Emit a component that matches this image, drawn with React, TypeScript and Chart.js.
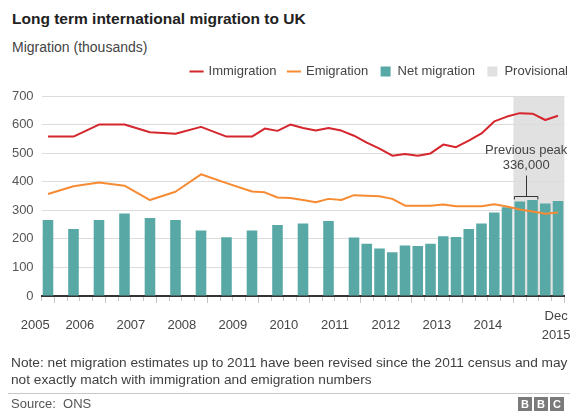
import React, { useEffect, useRef } from 'react';
import { Chart, registerables } from 'chart.js';

Chart.register(...registerables);

const FONT = '"Liberation Sans", Arial, Helvetica, sans-serif';
const RED = '#d5262d';
const ORANGE = '#f68b33';
const TEAL = '#58a8a5';
const GREY_BAND = '#e1e1e1';

// Year-ending quarters (x categories)
const quarters = [
  'Dec 2005',
  'Mar 2006', 'Jun 2006', 'Sep 2006', 'Dec 2006',
  'Mar 2007', 'Jun 2007', 'Sep 2007', 'Dec 2007',
  'Mar 2008', 'Jun 2008', 'Sep 2008', 'Dec 2008',
  'Mar 2009', 'Jun 2009', 'Sep 2009', 'Dec 2009',
  'Mar 2010', 'Jun 2010', 'Sep 2010', 'Dec 2010',
  'Mar 2011', 'Jun 2011', 'Sep 2011', 'Dec 2011',
  'Mar 2012', 'Jun 2012', 'Sep 2012', 'Dec 2012',
  'Mar 2013', 'Jun 2013', 'Sep 2013', 'Dec 2013',
  'Mar 2014', 'Jun 2014', 'Sep 2014', 'Dec 2014',
  'Mar 2015', 'Jun 2015', 'Sep 2015', 'Dec 2015',
];

// thousands
const immigration = [
  558,
  null, 558, null, 600,
  null, 600, null, 573,
  null, 568, null, 592,
  null, 558, null, 558,
  586, 578, 600, 588,
  579, 588, 579, 561,
  537, 516, 491, 497,
  491, 499, 530, 521,
  544, 569, 611, 628,
  640, 638, 616, 631,
];

const emigration = [
  357,
  null, 384, null, 397,
  null, 386, null, 336,
  null, 365, null, 426,
  null, 395, null, 366,
  363, 345, 343, 336,
  328, 340, 336, 353,
  351, 349, 340, 316,
  316, 316, 320, 314,
  314, 314, 321, 313,
  303, 296, 288, 292,
];

const netMigration = [
  266,
  null, 235, null, 266,
  null, 289, null, 273,
  null, 266, null, 229,
  null, 206, null, 229,
  null, 249, null, 254,
  null, 263, null, 205,
  183, 166, 153, 177,
  175, 183, 209, 207,
  235, 254, 292, 311,
  331, 336, 324, 333,
];

// x-axis year labels and their positions (in quarter units)
const yearTickPositions = [-1.0, 2.5, 6.5, 10.5, 14.5, 18.5, 22.5, 26.5, 30.5, 34.5, 39.85];
const yearTickLabels: (string | string[])[] = [
  '2005', '2006', '2007', '2008', '2009', '2010', '2011', '2012', '2013', '2014', ['Dec', '2015'],
];

const provisionalRange = [36.5, 40.5];
const peakRange = [37, 38];
const peakValue = 336;
const peakLabel = ['Previous peak', '336,000'];

const toPoints = (arr: (number | null)[]) =>
  arr
    .map((v, i) => (v === null ? null : { x: i, y: v }))
    .filter((p) => p !== null) as { x: number; y: number }[];

const legendGap = 8;

const legendGapPlugin = {
  id: 'legendGap',
  beforeLayout(chart: any) {
    const lg = chart.legend;
    if (lg && !lg._gapPatched) {
      const fit = lg.fit;
      lg.fit = function () {
        fit.call(this);
        this.height += legendGap;
      };
      lg._gapPatched = true;
    }
  },
};

const overlayPlugin = {
  id: 'overlay',
  beforeDraw(chart: any) {
    const { ctx, chartArea, scales } = chart;
    const xs = scales.x;
    const x0 = xs.getPixelForValue(provisionalRange[0]);
    const x1 = xs.getPixelForValue(provisionalRange[1]);
    ctx.save();
    ctx.fillStyle = GREY_BAND;
    ctx.fillRect(x0, chartArea.top, x1 - x0, chartArea.bottom - chartArea.top);
    ctx.restore();
  },
  afterDatasetsDraw(chart: any) {
    const { ctx, scales } = chart;
    const xs = scales.x;
    const ys = scales.y;
    const pa = xs.getPixelForValue(peakRange[0]);
    const pb = xs.getPixelForValue(peakRange[1]);
    const half = (xs.getPixelForValue(1) - xs.getPixelForValue(0)) * 0.42;
    const xa = pa - half;
    const xb = pb + half;
    const xm = (pa + pb) / 2;
    const yb = Math.round(ys.getPixelForValue(peakValue)) - 3.5;
    ctx.save();
    ctx.strokeStyle = '#333';
    ctx.lineWidth = 1;
    ctx.beginPath();
    ctx.moveTo(xa, yb + 3);
    ctx.lineTo(xa, yb);
    ctx.lineTo(xb, yb);
    ctx.lineTo(xb, yb + 3);
    ctx.moveTo(Math.round(xm) + 0.5, yb);
    ctx.lineTo(Math.round(xm) + 0.5, yb - 21);
    ctx.stroke();
    ctx.fillStyle = '#444';
    ctx.font = `13px ${FONT}`;
    ctx.textAlign = 'center';
    ctx.textBaseline = 'middle';
    ctx.fillText(peakLabel[0], xm, yb - 46.5);
    ctx.fillText(peakLabel[1], xm, yb - 31);
    ctx.restore();
  },
};

export default function App() {
  const ref = useRef<HTMLCanvasElement | null>(null);

  useEffect(() => {
    if (!ref.current) return;
    const quarterBoundaries = quarters.map((_, i) => i - 0.5).concat([quarters.length - 0.5]);
    const isMajor = (v: number) => Math.round(v + 0.5) % 4 === 1;

    const chart = new Chart(ref.current, {
      data: {
        datasets: [
          {
            type: 'line',
            label: 'Immigration',
            data: toPoints(immigration),
            borderColor: RED,
            backgroundColor: RED,
            borderWidth: 2,
            pointRadius: 0,
            tension: 0,
            borderJoinStyle: 'round',
            order: 0,
            xAxisID: 'x',
            yAxisID: 'y',
          },
          {
            type: 'line',
            label: 'Emigration',
            data: toPoints(emigration),
            borderColor: ORANGE,
            backgroundColor: ORANGE,
            borderWidth: 2,
            pointRadius: 0,
            tension: 0,
            borderJoinStyle: 'round',
            order: 0,
            xAxisID: 'x',
            yAxisID: 'y',
          },
          {
            type: 'bar',
            label: 'Net migration',
            data: toPoints(netMigration),
            backgroundColor: TEAL,
            barPercentage: 1,
            categoryPercentage: 0.83,
            order: 1,
            xAxisID: 'x',
            yAxisID: 'y',
          },
        ],
      } as any,
      options: {
        animation: false,
        responsive: true,
        maintainAspectRatio: false,
        events: [],
        layout: { padding: { top: 0, left: 0, right: 0, bottom: 0 } },
        scales: {
          x: {
            type: 'linear',
            position: 'bottom',
            min: -0.5,
            max: 40.5,
            offset: false,
            weight: 0,
            afterBuildTicks: (axis: any) => {
              axis.ticks = quarterBoundaries.map((v) => ({ value: v }));
            },
            grid: {
              display: true,
              offset: false,
              drawOnChartArea: false,
              drawTicks: true,
              tickLength: 7,
              tickColor: '#c4c4c4',
              tickWidth: 1,
              tickBorderDash: (c: any) => (c.tick && isMajor(c.tick.value) ? [] : [4, 20]),
            },
            border: { display: true, color: '#333', width: 2 },
            ticks: { display: false },
          },
          xl: {
            type: 'linear',
            position: 'bottom',
            min: -0.5,
            max: 40.5,
            offset: false,
            weight: 1,
            afterBuildTicks: (axis: any) => {
              axis.ticks = yearTickPositions.map((v) => ({ value: v }));
            },
            afterFit: (s: any) => {
              s.paddingLeft = 0;
              s.paddingRight = 0;
            },
            grid: { display: false },
            border: { display: false },
            ticks: {
              autoSkip: false,
              maxRotation: 0,
              minRotation: 0,
              padding: 5,
              crossAlign: 'center',
              color: '#444',
              font: { family: FONT, size: 13, lineHeight: 1.46 },
              callback: (_v: any, i: number) => yearTickLabels[i],
            },
          },
          y: {
            type: 'linear',
            position: 'left',
            min: 0,
            max: 700,
            afterFit: (s: any) => {
              s.width = 41.6;
            },
            ticks: {
              stepSize: 100,
              padding: 8,
              color: '#555',
              font: { family: FONT, size: 13 },
            },
            grid: { color: '#dcdcdc', lineWidth: 1, drawTicks: false },
            border: { display: false },
          },
          yR: {
            type: 'linear',
            position: 'right',
            display: true,
            afterFit: (s: any) => {
              s.width = 15.6;
            },
            grid: { display: false },
            ticks: { display: false },
            border: { display: false },
          },
        },
        plugins: {
          tooltip: { enabled: false },
          legend: {
            display: true,
            position: 'top',
            align: 'end',
            labels: {
              usePointStyle: true,
              boxWidth: 11,
              boxHeight: 10,
              padding: 12,
              color: '#444',
              font: { family: FONT, size: 13 },
              generateLabels: () => [
                { text: 'Immigration', pointStyle: 'line', strokeStyle: RED, fillStyle: RED, lineWidth: 2, hidden: false, fontColor: '#444' },
                { text: 'Emigration', pointStyle: 'line', strokeStyle: ORANGE, fillStyle: ORANGE, lineWidth: 2, hidden: false, fontColor: '#444' },
                { text: 'Net migration', pointStyle: 'rect', strokeStyle: TEAL, fillStyle: TEAL, lineWidth: 0, hidden: false, fontColor: '#444' },
                { text: 'Provisional', pointStyle: 'rect', strokeStyle: GREY_BAND, fillStyle: GREY_BAND, lineWidth: 0, hidden: false, fontColor: '#444' },
              ],
            },
          },
        },
      } as any,
      plugins: [legendGapPlugin, overlayPlugin],
    });
    return () => chart.destroy();
  }, []);

  return (
    <div
      style={{
        position: 'absolute',
        left: 0,
        top: 0,
        width: 580,
        height: 414,
        background: '#fff',
        fontFamily: FONT,
        overflow: 'hidden',
      }}
    >
      <div style={{ position: 'absolute', left: 12, top: 9, fontSize: 15.5, fontWeight: 'bold', color: '#222', lineHeight: '20px', whiteSpace: 'nowrap' }}>
        Long term international migration to UK
      </div>
      <div style={{ position: 'absolute', left: 12, top: 38, fontSize: 14, color: '#444', lineHeight: '18px', whiteSpace: 'nowrap' }}>
        Migration (thousands)
      </div>
      <div style={{ position: 'absolute', left: 0, top: 53, width: 580, height: 306 }}>
        <canvas ref={ref} />
      </div>
      <div style={{ position: 'absolute', left: 11, top: 354, fontSize: 13.7, color: '#404040', lineHeight: '17px', whiteSpace: 'nowrap' }}>
        Note: net migration estimates up to 2011 have been revised since the 2011 census and may
        <br />
        not exactly match with immigration and emigration numbers
      </div>
      <div style={{ position: 'absolute', left: 8, top: 393, width: 562, height: 1, background: '#c8c8c8' }} />
      <div style={{ position: 'absolute', left: 11, top: 396, fontSize: 13, color: '#555', lineHeight: '16px', whiteSpace: 'pre' }}>
        {'Source:  ONS'}
      </div>
      <div style={{ position: 'absolute', left: 518, top: 397, display: 'flex', gap: 2 }}>
        {['B', 'B', 'C'].map((l, i) => (
          <span
            key={i}
            style={{
              display: 'block',
              width: 14,
              height: 14,
              background: '#7a7a7a',
              color: '#fff',
              fontWeight: 'bold',
              fontSize: 11,
              lineHeight: '14px',
              textAlign: 'center',
            }}
          >
            {l}
          </span>
        ))}
      </div>
    </div>
  );
}
